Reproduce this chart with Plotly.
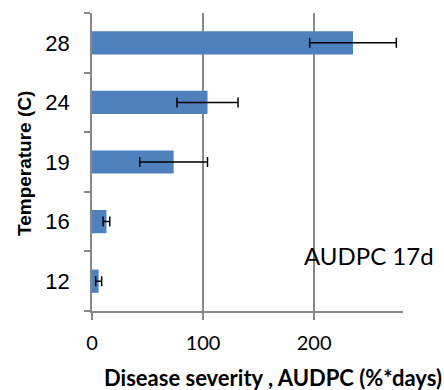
import plotly.graph_objects as go

temperatures = ["12", "16", "19", "24", "28"]
audpc = [6, 13, 73.5, 104, 235]
audpc_err = [2.7, 3, 30.5, 27.5, 39]
x_ticks = [0, 100, 200]

PLOT_L, PLOT_R, PLOT_T, PLOT_B = 92, 403, 13, 311
W, H = 444, 390
grid = "#888888"

fig = go.Figure()
fig.add_trace(go.Bar(
    x=audpc, y=temperatures, orientation="h",
    marker=dict(color="#4F81BD", line=dict(width=0)),
    error_x=dict(type="data", array=audpc_err, symmetric=True,
                 color="black", thickness=1.5, width=5),
))

fig.update_layout(
    width=W, height=H,
    margin=dict(l=PLOT_L, r=W - PLOT_R, t=PLOT_T, b=H - PLOT_B, pad=0),
    paper_bgcolor="white", plot_bgcolor="white",
    bargap=0.61, showlegend=False,
    xaxis=dict(range=[0, 280], tickvals=x_ticks, showgrid=True, gridcolor=grid,
               gridwidth=1.5, showline=True, linecolor=grid, linewidth=1.5,
               ticks="outside", ticklen=7, tickcolor=grid, tickwidth=1.5,
               zeroline=False, ticklabelstandoff=6,
               tickfont=dict(family="Lato", size=20, color="black")),
    yaxis=dict(type="category", categoryorder="array", categoryarray=temperatures,
               range=[-0.5, 4.5], showgrid=False, showline=True, linecolor=grid,
               linewidth=1.5, ticks="outside", ticklen=6, tickcolor=grid,
               tickwidth=1.5, tickson="boundaries", ticklabelstandoff=16,
               tickfont=dict(family="Liberation Sans", size=22, color="black")),
    annotations=[
        dict(text="AUDPC 17d", xref="x", yref="paper", x=189,
             y=(PLOT_B - 255) / (PLOT_B - PLOT_T), xanchor="left", yanchor="middle",
             showarrow=False, font=dict(family="Lato", size=24, color="black")),
        dict(text="<b>Disease severity , AUDPC (%*days)</b>", xref="paper", yref="paper",
             x=(273 - PLOT_L) / (PLOT_R - PLOT_L), y=-(377 - PLOT_B) / (PLOT_B - PLOT_T),
             xanchor="center", yanchor="middle", showarrow=False,
             font=dict(family="Lato", size=22, color="black")),
        dict(text="<b>Temperature (C)</b>", xref="paper", yref="paper",
             x=(24 - PLOT_L) / (PLOT_R - PLOT_L), y=(PLOT_B - 164) / (PLOT_B - PLOT_T),
             xanchor="center", yanchor="middle", textangle=-90, showarrow=False,
             font=dict(family="Liberation Sans", size=19, color="black")),
    ],
)

fig.write_html("out.html", config={"displayModeBar": False},
               post_script="document.body.style.margin='0';document.body.style.overflow='hidden';")
